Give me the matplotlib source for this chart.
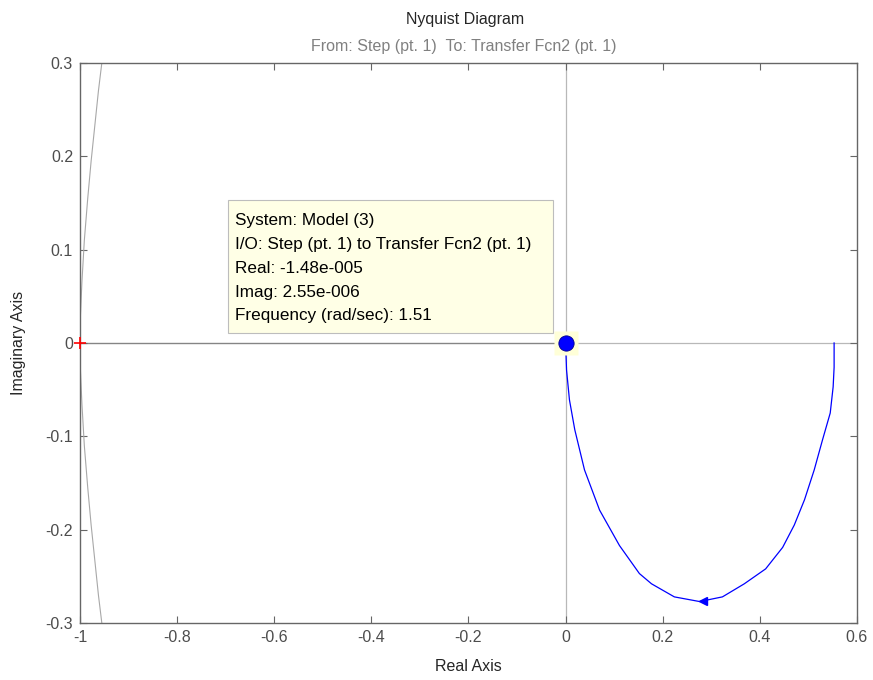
import matplotlib.pyplot as plt
import matplotlib.patches as mpatches
import numpy as np

plt.rcParams['font.family'] = ['Liberation Sans', 'DejaVu Sans']

# Nyquist curve (positive frequencies)
re_pos = [0.553, 0.553, 0.551, 0.545, 0.529, 0.512, 0.492, 0.471, 0.447, 0.412,
          0.368, 0.323, 0.276, 0.224, 0.177, 0.152, 0.111, 0.070, 0.039, 0.019,
          0.008, 0.002, 0.0]
im_pos = [0.0, -0.026, -0.047, -0.075, -0.104, -0.136, -0.168, -0.195, -0.219, -0.242,
          -0.258, -0.272, -0.277, -0.272, -0.258, -0.247, -0.217, -0.179, -0.136, -0.093,
          -0.061, -0.029, 0.0]

# grey branch near the critical point
re_grey = [-0.955, -0.962, -0.969, -0.977, -0.984, -0.991, -0.996, -0.999, -1.0,
           -0.999, -0.996, -0.991, -0.984, -0.977, -0.969, -0.962, -0.955]
im_grey = [0.30, 0.27, 0.235, 0.195, 0.155, 0.11, 0.065, 0.03, 0.0,
           -0.03, -0.065, -0.11, -0.155, -0.195, -0.235, -0.27, -0.30]

arrow_pt = (0.282, -0.276)
tip_pt = (-1.48e-5, 2.55e-6)
tip_lines = [
    "System: Model (3)",
    "I/O: Step (pt. 1) to Transfer Fcn2 (pt. 1)",
    "Real: -1.48e-005",
    "Imag: 2.55e-006",
    "Frequency (rad/sec): 1.51",
]

fig = plt.figure(figsize=(8.73, 6.8), dpi=100)
ax = fig.add_axes([0.0916, 0.0838, 0.89, 0.8236])

axis_col = '#666666'
label_col = '#4d4d4d'

# zero lines
ax.axhline(0, color='#b8b8b8', lw=0.9, zorder=1)
ax.axvline(0, color='#b8b8b8', lw=0.9, zorder=1)
ax.plot([-1, 0], [0, 0], color='#858585', lw=0.9, zorder=1)

ax.plot(re_grey, im_grey, color='#a8a8a8', lw=0.8, zorder=2)
ax.plot(re_pos, im_pos, color='#0000ff', lw=0.9, zorder=3)
ax.plot([arrow_pt[0]], [arrow_pt[1]], marker='<', color='#0000ff',
        markersize=6, zorder=4)

# critical point
ax.plot([-1], [0], marker='+', color='red', markersize=9, mew=1.2, zorder=5,
        clip_on=False)

# data tip marker
ax.plot([tip_pt[0]], [tip_pt[1]], marker='s', color='#ffffd8', markersize=17,
        zorder=5, mec='none')
ax.plot([tip_pt[0]], [tip_pt[1]], marker='o', color='#0000ff', markersize=11,
        mec='#00008b', mew=0.6, zorder=6)

# data tip box
box = mpatches.Rectangle((-0.695, 0.011), 0.670, 0.142, fc='#ffffe6',
                         ec='#bdbdbd', lw=0.8, zorder=7)
ax.add_patch(box)
for i, line in enumerate(tip_lines):
    ax.text(-0.681, 0.131 - i * 0.0255, line, fontsize=12.3, color='black',
            va='center', ha='left', zorder=8)

ax.set_xlim(-1, 0.6)
ax.set_ylim(-0.3, 0.3)
ax.set_xticks(np.arange(-1, 0.61, 0.2))
ax.set_yticks(np.arange(-0.3, 0.31, 0.1))
ax.set_xticklabels(['-1', '-0.8', '-0.6', '-0.4', '-0.2', '0', '0.2', '0.4', '0.6'])
ax.set_yticklabels(['-0.3', '-0.2', '-0.1', '0', '0.1', '0.2', '0.3'])

ax.tick_params(direction='in', length=5, width=0.8, colors=axis_col,
               labelcolor=label_col, labelsize=11.5, top=True, right=True, pad=5)
for s in ax.spines.values():
    s.set_color(axis_col)
    s.set_linewidth(1.0)

ax.set_xlabel('Real Axis', fontsize=11.5, color='#262626', labelpad=10)
ax.set_ylabel('Imaginary Axis', fontsize=11.5, color='#262626', labelpad=14)

fig.text(0.533, 0.972, 'Nyquist Diagram', ha='center', va='center',
         fontsize=11.5, color='#262626')
fig.text(0.531, 0.932, 'From: Step (pt. 1)  To: Transfer Fcn2 (pt. 1)',
         ha='center', va='center', fontsize=11.5, color='#808080')

fig.savefig('out.png', dpi=100)
